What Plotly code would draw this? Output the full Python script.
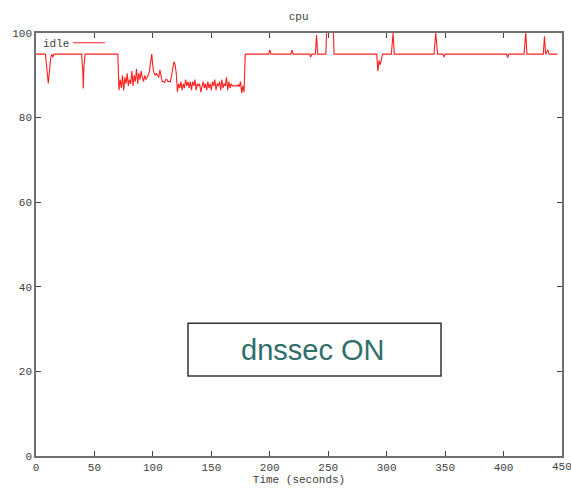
import plotly.graph_objects as go

# ---- data: cpu idle (%) vs time (seconds) ----
t_start = [0, 8, 9.5, 10.5, 11.5, 12.5, 13.5, 14.5, 15.5, 39, 40, 40.5, 41, 42, 69]
v_start = [95, 95, 91, 88.1, 91, 94, 95, 94.3, 95, 95, 91, 86.9, 92, 95, 95]

t_noisy = list(range(70, 180))
v_noisy = [95, 86.5, 89, 87, 90, 86.5, 89.5, 88, 90.5, 87.5,
           89, 88, 91, 87.5, 90, 88.5, 91.5, 88, 90.5, 89,
           91, 89.5, 88.5, 90, 89, 89.5, 90, 91, 93, 95,
           92, 90.5, 90, 90.5, 90, 89.5, 91.3, 89.5, 88.5, 88.5,
           88.3, 89, 89, 88.5, 88.5, 88.5, 90, 92, 93.2, 92.5,
           90.5, 86.1, 88, 87, 88.5, 86.5, 88, 87, 89, 87.5,
           88.5, 87, 88.5, 86.5, 88.5, 87.5, 89, 86.5, 88, 87.5,
           88, 86, 87.5, 88.5, 87, 88, 86.5, 88.5, 87, 88,
           86.5, 88.5, 87.5, 89, 86.5, 88, 87.5, 88.5, 86.5, 89,
           87, 88, 87.5, 89.5, 86.5, 88.5, 87, 88, 87.5, 87.5,
           87.5, 87.5, 87.5, 87.8, 87.3, 88.5, 85.8, 87.5, 86, 95]

t_end = [199, 200, 201, 218, 219, 220, 234, 235, 236, 239, 240, 241, 248, 249,
         250, 251, 252, 253, 254, 255, 291.5, 292.5, 293.5, 294.5, 295.5, 296.5,
         304, 305.5, 306.5, 340.5, 342, 343.5, 348, 349, 350, 402.5, 403.5, 404.5,
         417.5, 419, 420, 434, 435, 436, 437, 438, 439, 446]
v_end = [95, 96, 95, 95, 96, 95, 95, 94.3, 95, 95, 99.5, 95, 95, 104,
         104, 104, 104, 104, 104, 95, 95, 91, 93.5, 92.5, 94, 95,
         95, 100, 95, 95, 100, 95, 95, 94.3, 95, 95, 94.2, 95,
         95, 100, 95, 95, 99.2, 95, 95.5, 96, 95, 95]

time = t_start + t_noisy + t_end
idle = v_start + v_noisy + v_end

x_ticks = [0, 50, 100, 150, 200, 250, 300, 350, 400, 450]
y_ticks = [0, 20, 40, 60, 80, 100]

mono = "Liberation Mono"
txt = "#404040"

fig = go.Figure()
fig.add_trace(go.Scatter(x=time, y=idle, mode="lines", name="idle",
                         line=dict(color="#ff2020", width=1.1),
                         showlegend=False))

axis_common = dict(showgrid=False, zeroline=False, showline=True,
                   linecolor="#707070", linewidth=1.5, mirror="ticks",
                   ticks="inside", ticklen=5, tickcolor="#444", tickwidth=1,
                   automargin=False,
                   tickfont=dict(family=mono, size=11, color=txt))

fig.update_layout(
    width=571, height=490,
    margin=dict(l=36, r=9, t=33, b=34),
    paper_bgcolor="white", plot_bgcolor="white",
    title=dict(text="cpu", x=0.523, xanchor="center", y=0.968, yanchor="middle",
               automargin=False,
               font=dict(family=mono, size=11, color=txt)),
    xaxis=dict(range=[0, 450], tickvals=x_ticks,
               title=dict(text="Time (seconds)", standoff=2,
                          font=dict(family=mono, size=11, color=txt)),
               **axis_common),
    yaxis=dict(range=[0, 100], tickvals=y_ticks, **axis_common),
    showlegend=False,
)

# last x tick label, which runs past the page edge (plotly would drop it)
fig.add_annotation(xref="x", yref="paper", x=x_ticks[-1], y=0,
                   xanchor="center", yanchor="top", yshift=-3, showarrow=False,
                   text=str(x_ticks[-1]), font=dict(family=mono, size=11, color=txt))

# key (gnuplot style: label then line sample)
fig.add_annotation(xref="paper", yref="paper", x=0.009, y=0.975,
                   xanchor="left", yanchor="middle", showarrow=False,
                   text="idle", font=dict(family=mono, size=11, color=txt))
fig.add_shape(type="line", xref="paper", yref="paper",
              x0=0.070, x1=0.131, y0=0.977, y1=0.977,
              line=dict(color="#ff2020", width=1.1))

# "dnssec ON" box
fig.add_shape(type="rect", xref="paper", yref="paper",
              x0=0.289, x1=0.770, y0=0.189, y1=0.314,
              line=dict(color="#333", width=1.5), fillcolor="white")
fig.add_annotation(xref="paper", yref="paper", x=0.525, y=0.2515,
                   xanchor="center", yanchor="middle", showarrow=False,
                   text="dnssec ON",
                   font=dict(family="Liberation Sans, Arial", size=29, color="#2f6e6b"))

fig.write_html("out.html")
